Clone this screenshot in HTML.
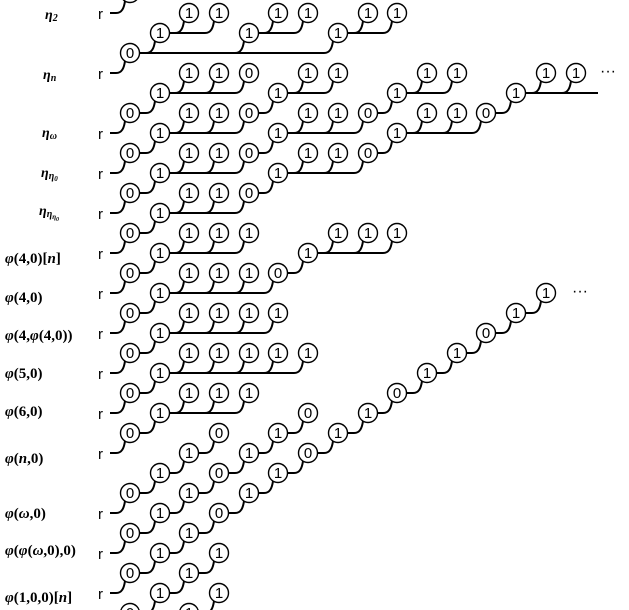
<!DOCTYPE html>
<html><head><meta charset="utf-8"><style>
html,body{margin:0;padding:0;background:#fff;width:629px;height:610px;overflow:hidden}
svg{display:block}
.n circle{fill:#fff;stroke:#000;stroke-width:1.4}
.n text{font-family:"Liberation Sans",sans-serif;font-size:15px;text-anchor:middle}
.r{font-family:"Liberation Sans",sans-serif;font-size:15px}
.m{font-family:"Liberation Serif",serif;font-size:15px;font-weight:bold}
.e{font-family:"Liberation Serif",serif;font-size:14px;font-style:italic;font-weight:bold}
</style></head><body>
<svg width="629" height="610" viewBox="0 0 629 610" xmlns="http://www.w3.org/2000/svg">
<g fill="none" stroke="#000" stroke-width="2">
<path d="M110,13H116C122,13 124,8 125,1 M110,73H116C122,73 124,68 125,61 M110,133H116C122,133 124,128 125,121 M110,173H116C122,173 124,168 125,161 M110,213H116C122,213 124,208 125,201 M110,253H116C122,253 124,248 125,241 M110,293H116C122,293 124,288 125,281 M110,333H116C122,333 124,328 125,321 M110,373H116C122,373 124,368 125,361 M110,413H116C122,413 124,408 125,401 M110,453H116C122,453 124,448 125,441 M110,513H116C122,513 124,508 125,501 M110,553H116C122,553 124,548 125,541 M110,593H116C122,593 124,588 125,581"/>
<path d="M139,53H324 M146,53C152,53 154,48 155,41 M235,53C241,53 243,48 244,41 M324,53C330,53 332,48 333,41
M169,33H205 M175,33C181,33 183,28 184,21 M205,33C211,33 213,28 214,21 M258,33H294 M264,33C270,33 272,28 273,21 M294,33C300,33 302,28 303,21 M347,33H383 M354,33C360,33 362,28 363,21 M383,33C389,33 391,28 392,21
M169,93H235 M175,93C181,93 183,88 184,81 M205,93C211,93 213,88 214,81 M235,93C241,93 243,88 244,81
M287,93H324 M294,93C300,93 302,88 303,81 M324,93C330,93 332,88 333,81
M406,93H443 M413,93C419,93 421,88 422,81 M443,93C449,93 451,88 452,81
M525,93H598 M532,93C538,93 540,88 541,81 M562,93C568,93 570,88 571,81
M139,113H146C152,113 154,108 155,101 M258,113H264C270,113 272,108 273,101 M377,113H383C389,113 391,108 392,101 M495,113H502C508,113 510,108 511,101
M169,133H235 M175,133C181,133 183,128 184,121 M205,133C211,133 213,128 214,121 M235,133C241,133 243,128 244,121
M287,133H354 M294,133C300,133 302,128 303,121 M324,133C330,133 332,128 333,121 M354,133C360,133 362,128 363,121
M406,133H472 M413,133C419,133 421,128 422,121 M443,133C449,133 451,128 452,121 M472,133C478,133 480,128 481,121
M139,153H146C152,153 154,148 155,141 M258,153H264C270,153 272,148 273,141 M377,153H383C389,153 391,148 392,141
M169,173H235 M175,173C181,173 183,168 184,161 M205,173C211,173 213,168 214,161 M235,173C241,173 243,168 244,161
M287,173H354 M294,173C300,173 302,168 303,161 M324,173C330,173 332,168 333,161 M354,173C360,173 362,168 363,161
M139,193H146C152,193 154,188 155,181 M258,193H264C270,193 272,188 273,181
M169,213H235 M175,213C181,213 183,208 184,201 M205,213C211,213 213,208 214,201 M235,213C241,213 243,208 244,201
M139,233H146C152,233 154,228 155,221
M169,253H235 M175,253C181,253 183,248 184,241 M205,253C211,253 213,248 214,241 M235,253C241,253 243,248 244,241
M317,253H383 M324,253C330,253 332,248 333,241 M354,253C360,253 362,248 363,241 M383,253C389,253 391,248 392,241
M139,273H146C152,273 154,268 155,261 M287,273H294C300,273 302,268 303,261
M169,293H264 M175,293C181,293 183,288 184,281 M205,293C211,293 213,288 214,281 M235,293C241,293 243,288 244,281 M264,293C270,293 272,288 273,281
M139,313H146C152,313 154,308 155,301 M525,313H532C538,313 540,308 541,301
M169,333H264 M175,333C181,333 183,328 184,321 M205,333C211,333 213,328 214,321 M235,333C241,333 243,328 244,321 M264,333C270,333 272,328 273,321 M495,333H502C508,333 510,328 511,321
M139,353H146C152,353 154,348 155,341 M466,353H472C478,353 480,348 481,341
M169,373H294 M175,373C181,373 183,368 184,361 M205,373C211,373 213,368 214,361 M235,373C241,373 243,368 244,361 M264,373C270,373 272,368 273,361 M294,373C300,373 302,368 303,361 M436,373H443C449,373 451,368 452,361
M139,393H146C152,393 154,388 155,381 M406,393H413C419,393 421,388 422,381
M169,413H235 M175,413C181,413 183,408 184,401 M205,413C211,413 213,408 214,401 M235,413C241,413 243,408 244,401 M377,413H383C389,413 391,408 392,401
M139,433H146C152,433 154,428 155,421 M287,433H294C300,433 302,428 303,421 M347,433H354C360,433 362,428 363,421
M198,453H205C211,453 213,448 214,441 M258,453H264C270,453 272,448 273,441 M317,453H324C330,453 332,448 333,441
M169,473H175C181,473 183,468 184,461 M228,473H235C241,473 243,468 244,461 M287,473H294C300,473 302,468 303,461
M139,493H146C152,493 154,488 155,481 M198,493H205C211,493 213,488 214,481 M258,493H264C270,493 272,488 273,481
M169,513H175C181,513 183,508 184,501 M228,513H235C241,513 243,508 244,501
M139,533H146C152,533 154,528 155,521 M198,533H205C211,533 213,528 214,521
M169,553H175C181,553 183,548 184,541
M139,573H146C152,573 154,568 155,561 M198,573H205C211,573 213,568 214,561
M169,593H175C181,593 183,588 184,581
M139,613H146C152,613 154,608 155,601 M198,613H205C211,613 213,608 214,601"/>
</g>
<g class="n">
<circle cx="130" cy="-7" r="9.5"/><text x="130" y="-2">0</text>
<circle cx="189" cy="13" r="9.5"/><text x="189" y="18">1</text><circle cx="219" cy="13" r="9.5"/><text x="219" y="18">1</text><circle cx="278" cy="13" r="9.5"/><text x="278" y="18">1</text><circle cx="308" cy="13" r="9.5"/><text x="308" y="18">1</text><circle cx="368" cy="13" r="9.5"/><text x="368" y="18">1</text><circle cx="397" cy="13" r="9.5"/><text x="397" y="18">1</text>
<circle cx="160" cy="33" r="9.5"/><text x="160" y="38">1</text><circle cx="249" cy="33" r="9.5"/><text x="249" y="38">1</text><circle cx="338" cy="33" r="9.5"/><text x="338" y="38">1</text>
<circle cx="130" cy="53" r="9.5"/><text x="130" y="58">0</text>
<circle cx="189" cy="73" r="9.5"/><text x="189" y="78">1</text><circle cx="219" cy="73" r="9.5"/><text x="219" y="78">1</text><circle cx="249" cy="73" r="9.5"/><text x="249" y="78">0</text><circle cx="308" cy="73" r="9.5"/><text x="308" y="78">1</text><circle cx="338" cy="73" r="9.5"/><text x="338" y="78">1</text><circle cx="427" cy="73" r="9.5"/><text x="427" y="78">1</text><circle cx="457" cy="73" r="9.5"/><text x="457" y="78">1</text><circle cx="546" cy="73" r="9.5"/><text x="546" y="78">1</text><circle cx="576" cy="73" r="9.5"/><text x="576" y="78">1</text>
<circle cx="160" cy="93" r="9.5"/><text x="160" y="98">1</text><circle cx="278" cy="93" r="9.5"/><text x="278" y="98">1</text><circle cx="397" cy="93" r="9.5"/><text x="397" y="98">1</text><circle cx="516" cy="93" r="9.5"/><text x="516" y="98">1</text>
<circle cx="130" cy="113" r="9.5"/><text x="130" y="118">0</text><circle cx="189" cy="113" r="9.5"/><text x="189" y="118">1</text><circle cx="219" cy="113" r="9.5"/><text x="219" y="118">1</text><circle cx="249" cy="113" r="9.5"/><text x="249" y="118">0</text><circle cx="308" cy="113" r="9.5"/><text x="308" y="118">1</text><circle cx="338" cy="113" r="9.5"/><text x="338" y="118">1</text><circle cx="368" cy="113" r="9.5"/><text x="368" y="118">0</text><circle cx="427" cy="113" r="9.5"/><text x="427" y="118">1</text><circle cx="457" cy="113" r="9.5"/><text x="457" y="118">1</text><circle cx="486" cy="113" r="9.5"/><text x="486" y="118">0</text>
<circle cx="160" cy="133" r="9.5"/><text x="160" y="138">1</text><circle cx="278" cy="133" r="9.5"/><text x="278" y="138">1</text><circle cx="397" cy="133" r="9.5"/><text x="397" y="138">1</text>
<circle cx="130" cy="153" r="9.5"/><text x="130" y="158">0</text><circle cx="189" cy="153" r="9.5"/><text x="189" y="158">1</text><circle cx="219" cy="153" r="9.5"/><text x="219" y="158">1</text><circle cx="249" cy="153" r="9.5"/><text x="249" y="158">0</text><circle cx="308" cy="153" r="9.5"/><text x="308" y="158">1</text><circle cx="338" cy="153" r="9.5"/><text x="338" y="158">1</text><circle cx="368" cy="153" r="9.5"/><text x="368" y="158">0</text>
<circle cx="160" cy="173" r="9.5"/><text x="160" y="178">1</text><circle cx="278" cy="173" r="9.5"/><text x="278" y="178">1</text>
<circle cx="130" cy="193" r="9.5"/><text x="130" y="198">0</text><circle cx="189" cy="193" r="9.5"/><text x="189" y="198">1</text><circle cx="219" cy="193" r="9.5"/><text x="219" y="198">1</text><circle cx="249" cy="193" r="9.5"/><text x="249" y="198">0</text>
<circle cx="160" cy="213" r="9.5"/><text x="160" y="218">1</text>
<circle cx="130" cy="233" r="9.5"/><text x="130" y="238">0</text><circle cx="189" cy="233" r="9.5"/><text x="189" y="238">1</text><circle cx="219" cy="233" r="9.5"/><text x="219" y="238">1</text><circle cx="249" cy="233" r="9.5"/><text x="249" y="238">1</text><circle cx="338" cy="233" r="9.5"/><text x="338" y="238">1</text><circle cx="368" cy="233" r="9.5"/><text x="368" y="238">1</text><circle cx="397" cy="233" r="9.5"/><text x="397" y="238">1</text>
<circle cx="160" cy="253" r="9.5"/><text x="160" y="258">1</text><circle cx="308" cy="253" r="9.5"/><text x="308" y="258">1</text>
<circle cx="130" cy="273" r="9.5"/><text x="130" y="278">0</text><circle cx="189" cy="273" r="9.5"/><text x="189" y="278">1</text><circle cx="219" cy="273" r="9.5"/><text x="219" y="278">1</text><circle cx="249" cy="273" r="9.5"/><text x="249" y="278">1</text><circle cx="278" cy="273" r="9.5"/><text x="278" y="278">0</text>
<circle cx="160" cy="293" r="9.5"/><text x="160" y="298">1</text><circle cx="546" cy="293" r="9.5"/><text x="546" y="298">1</text>
<circle cx="130" cy="313" r="9.5"/><text x="130" y="318">0</text><circle cx="189" cy="313" r="9.5"/><text x="189" y="318">1</text><circle cx="219" cy="313" r="9.5"/><text x="219" y="318">1</text><circle cx="249" cy="313" r="9.5"/><text x="249" y="318">1</text><circle cx="278" cy="313" r="9.5"/><text x="278" y="318">1</text><circle cx="516" cy="313" r="9.5"/><text x="516" y="318">1</text>
<circle cx="160" cy="333" r="9.5"/><text x="160" y="338">1</text><circle cx="486" cy="333" r="9.5"/><text x="486" y="338">0</text>
<circle cx="130" cy="353" r="9.5"/><text x="130" y="358">0</text><circle cx="189" cy="353" r="9.5"/><text x="189" y="358">1</text><circle cx="219" cy="353" r="9.5"/><text x="219" y="358">1</text><circle cx="249" cy="353" r="9.5"/><text x="249" y="358">1</text><circle cx="278" cy="353" r="9.5"/><text x="278" y="358">1</text><circle cx="308" cy="353" r="9.5"/><text x="308" y="358">1</text><circle cx="457" cy="353" r="9.5"/><text x="457" y="358">1</text>
<circle cx="160" cy="373" r="9.5"/><text x="160" y="378">1</text><circle cx="427" cy="373" r="9.5"/><text x="427" y="378">1</text>
<circle cx="130" cy="393" r="9.5"/><text x="130" y="398">0</text><circle cx="189" cy="393" r="9.5"/><text x="189" y="398">1</text><circle cx="219" cy="393" r="9.5"/><text x="219" y="398">1</text><circle cx="249" cy="393" r="9.5"/><text x="249" y="398">1</text><circle cx="397" cy="393" r="9.5"/><text x="397" y="398">0</text>
<circle cx="160" cy="413" r="9.5"/><text x="160" y="418">1</text><circle cx="308" cy="413" r="9.5"/><text x="308" y="418">0</text><circle cx="368" cy="413" r="9.5"/><text x="368" y="418">1</text>
<circle cx="130" cy="433" r="9.5"/><text x="130" y="438">0</text><circle cx="219" cy="433" r="9.5"/><text x="219" y="438">0</text><circle cx="278" cy="433" r="9.5"/><text x="278" y="438">1</text><circle cx="338" cy="433" r="9.5"/><text x="338" y="438">1</text>
<circle cx="189" cy="453" r="9.5"/><text x="189" y="458">1</text><circle cx="249" cy="453" r="9.5"/><text x="249" y="458">1</text><circle cx="308" cy="453" r="9.5"/><text x="308" y="458">0</text>
<circle cx="160" cy="473" r="9.5"/><text x="160" y="478">1</text><circle cx="219" cy="473" r="9.5"/><text x="219" y="478">0</text><circle cx="278" cy="473" r="9.5"/><text x="278" y="478">1</text>
<circle cx="130" cy="493" r="9.5"/><text x="130" y="498">0</text><circle cx="189" cy="493" r="9.5"/><text x="189" y="498">1</text><circle cx="249" cy="493" r="9.5"/><text x="249" y="498">1</text>
<circle cx="160" cy="513" r="9.5"/><text x="160" y="518">1</text><circle cx="219" cy="513" r="9.5"/><text x="219" y="518">0</text>
<circle cx="130" cy="533" r="9.5"/><text x="130" y="538">0</text><circle cx="189" cy="533" r="9.5"/><text x="189" y="538">1</text>
<circle cx="160" cy="553" r="9.5"/><text x="160" y="558">1</text><circle cx="219" cy="553" r="9.5"/><text x="219" y="558">1</text>
<circle cx="130" cy="573" r="9.5"/><text x="130" y="578">0</text><circle cx="189" cy="573" r="9.5"/><text x="189" y="578">1</text>
<circle cx="160" cy="593" r="9.5"/><text x="160" y="598">1</text><circle cx="219" cy="593" r="9.5"/><text x="219" y="598">1</text>
<circle cx="130" cy="613" r="9.5"/><text x="130" y="618">0</text><circle cx="189" cy="613" r="9.5"/><text x="189" y="618">1</text>
</g>
<g class="r">
<text x="98" y="19">r</text><text x="98" y="79">r</text><text x="98" y="139">r</text><text x="98" y="179">r</text><text x="98" y="219">r</text><text x="98" y="259">r</text><text x="98" y="299">r</text><text x="98" y="339">r</text><text x="98" y="379">r</text><text x="98" y="419">r</text><text x="98" y="459">r</text><text x="98" y="519">r</text><text x="98" y="559">r</text><text x="98" y="599">r</text>
</g>
<text x="600" y="76" font-family="Liberation Sans,sans-serif" font-size="16">···</text>
<text x="572" y="296" font-family="Liberation Sans,sans-serif" font-size="16">···</text>
<g class="e">
<text x="45" y="19">η<tspan font-size="10" dy="2">2</tspan></text>
<text x="43" y="79">η<tspan font-size="10" dy="2">n</tspan></text>
<text x="42" y="137">η<tspan font-size="10" dy="2">ω</tspan></text>
<text x="41" y="177">η<tspan font-size="10" dy="2">η</tspan><tspan font-size="7" dy="2">0</tspan></text>
<text x="39" y="215">η<tspan font-size="10" dy="2">η</tspan><tspan font-size="7" dy="2">η</tspan><tspan font-size="6" dy="2">0</tspan></text>
</g>
<g class="m">
<text x="5" y="263"><tspan font-style="italic">φ</tspan>(4,0)[<tspan font-style="italic">n</tspan>]</text>
<text x="5" y="302"><tspan font-style="italic">φ</tspan>(4,0)</text>
<text x="5" y="340"><tspan font-style="italic">φ</tspan>(4,<tspan font-style="italic">φ</tspan>(4,0))</text>
<text x="5" y="378"><tspan font-style="italic">φ</tspan>(5,0)</text>
<text x="5" y="416"><tspan font-style="italic">φ</tspan>(6,0)</text>
<text x="5" y="463"><tspan font-style="italic">φ</tspan>(<tspan font-style="italic">n</tspan>,0)</text>
<text x="5" y="518"><tspan font-style="italic">φ</tspan>(<tspan font-style="italic">ω</tspan>,0)</text>
<text x="5" y="555"><tspan font-style="italic">φ</tspan>(<tspan font-style="italic">φ</tspan>(<tspan font-style="italic">ω</tspan>,0),0)</text>
<text x="5" y="602"><tspan font-style="italic">φ</tspan>(1,0,0)[<tspan font-style="italic">n</tspan>]</text>
</g>
</svg>
</body></html>
